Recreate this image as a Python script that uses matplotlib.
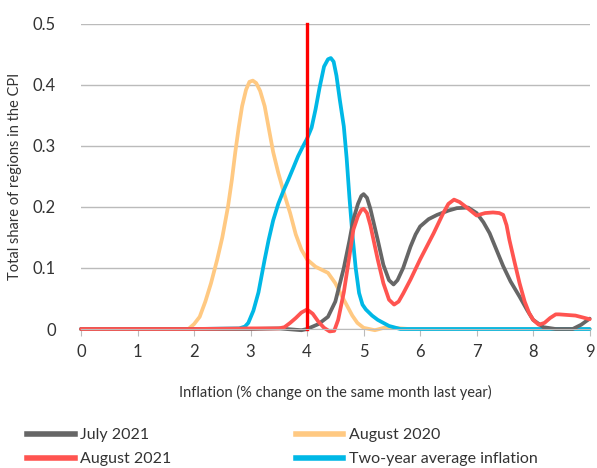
import matplotlib
matplotlib.use("Agg")
import matplotlib.pyplot as plt

# regional CPI distribution, share of regions by inflation rate
x_jul21 = [0, 1, 2, 3, 3.5, 3.9, 4.0, 4.2, 4.37, 4.5, 4.65, 4.75, 4.82, 4.9, 4.96, 5.0,
           5.06, 5.12, 5.25, 5.35, 5.45, 5.53, 5.6, 5.7, 5.83, 5.92, 6.0, 6.15, 6.3,
           6.5, 6.65, 6.85, 7.0, 7.12, 7.23, 7.35, 7.47, 7.6, 7.76, 7.9, 8.0, 8.18,
           8.4, 8.7, 8.85, 9.0]
y_jul21 = [0, 0, 0, 0, 0.001, -0.002, 0.0, 0.008, 0.02, 0.045, 0.1, 0.145, 0.18, 0.205,
           0.218, 0.221, 0.215, 0.197, 0.146, 0.105, 0.08, 0.073, 0.08, 0.1, 0.135, 0.155,
           0.168, 0.18, 0.187, 0.194, 0.198, 0.199, 0.19, 0.175, 0.157, 0.13, 0.103,
           0.078, 0.053, 0.03, 0.015, 0.003, 0.0, 0.0, 0.007, 0.017]

x_aug21 = [0, 1, 2, 3, 3.5, 3.6, 3.7, 3.8, 3.9, 4.0, 4.1, 4.2, 4.3, 4.4, 4.48, 4.55,
           4.65, 4.75, 4.82, 4.9, 4.96, 5.0, 5.06, 5.12, 5.25, 5.35, 5.45, 5.54, 5.62,
           5.7, 5.83, 6.0, 6.24, 6.41, 6.5, 6.6, 6.7, 6.84, 7.0, 7.15, 7.29, 7.4, 7.47,
           7.53, 7.58, 7.67, 7.76, 7.85, 7.93, 8.0, 8.1, 8.2, 8.3, 8.4, 8.46, 8.75, 9.0]
y_aug21 = [0, 0, 0, 0.001, 0.001, 0.003, 0.01, 0.018, 0.027, 0.032, 0.025, 0.012, 0.002,
           -0.004, -0.003, 0.015, 0.06, 0.12, 0.163, 0.185, 0.195, 0.197, 0.19, 0.17,
           0.114, 0.075, 0.048, 0.04, 0.045, 0.058, 0.081, 0.114, 0.157, 0.19, 0.205,
           0.212, 0.208, 0.198, 0.186, 0.19, 0.191, 0.19, 0.187, 0.17, 0.146, 0.11,
           0.075, 0.045, 0.026, 0.015, 0.007, 0.01, 0.018, 0.024, 0.024, 0.022, 0.016]

x_aug20 = [0, 1, 1.9, 2.0, 2.1, 2.2, 2.3, 2.41, 2.5, 2.6, 2.67, 2.73, 2.79, 2.85, 2.92,
           2.98, 3.04, 3.1, 3.17, 3.25, 3.32, 3.4, 3.49, 3.6, 3.7, 3.8, 3.9, 4.0, 4.15,
           4.37, 4.5, 4.65, 4.8, 4.89, 5.0, 5.2, 5.4, 5.8, 6, 7, 8, 9]
y_aug20 = [0, 0, 0, 0.008, 0.02, 0.045, 0.075, 0.114, 0.15, 0.2, 0.245, 0.29, 0.33,
           0.365, 0.392, 0.405, 0.407, 0.403, 0.39, 0.365, 0.33, 0.29, 0.256, 0.22,
           0.19, 0.155, 0.13, 0.114, 0.102, 0.092, 0.075, 0.048, 0.022, 0.01, 0.002,
           -0.002, 0.003, 0, 0, 0, 0, 0]

x_avg = [0, 1, 2, 2.8, 2.9, 2.96, 3.05, 3.14, 3.25, 3.32, 3.4, 3.49, 3.58, 3.67, 3.76,
         3.84, 3.92, 4.0, 4.08, 4.15, 4.22, 4.3, 4.37, 4.42, 4.47, 4.52, 4.58, 4.65,
         4.7, 4.75, 4.8, 4.86, 4.92, 4.98, 5.04, 5.15, 5.25, 5.45, 5.65, 6, 7, 8, 9]
y_avg = [0, 0, 0, 0.001, 0.004, 0.01, 0.03, 0.06, 0.114, 0.146, 0.178, 0.205, 0.226,
         0.245, 0.265, 0.283, 0.298, 0.312, 0.33, 0.36, 0.395, 0.43, 0.442, 0.444,
         0.438, 0.415, 0.375, 0.332, 0.28, 0.215, 0.157, 0.1, 0.059, 0.04, 0.032,
         0.022, 0.015, 0.005, 0.0, 0, 0, 0, 0]

threshold = 4.0

GREY = "#666666"
RED = "#FF5450"
ORANGE = "#FFC982"
BLUE = "#00B8E6"

plt.rcParams["font.family"] = ["Lato", "DejaVu Sans"]

fig = plt.figure(figsize=(5.97, 4.68), dpi=100)
ax = fig.add_axes([0.1357, 0.297, 0.852, 0.652])

lw = 2.7
style = dict(lw=lw, clip_on=False, solid_capstyle="round", solid_joinstyle="round")
ax.plot(x_aug20, y_aug20, color=ORANGE, **style)
ax.plot(x_avg, y_avg, color=BLUE, **style)
ax.plot(x_jul21, y_jul21, color=GREY, **style)
ax.plot(x_aug21, y_aug21, color=RED, **style)
ax.plot([threshold, threshold], [0, 0.5], color="#FF0000", lw=2.4, clip_on=False)

ax.set_xlim(0, 9)
ax.set_ylim(0, 0.5)
ax.set_xticks(range(10))
ax.set_yticks([0, 0.1, 0.2, 0.3, 0.4, 0.5])
ax.set_yticklabels(["0", "0.1", "0.2", "0.3", "0.4", "0.5"])
ax.grid(axis="y", color="#BBBBBB", lw=1)
ax.set_axisbelow(True)
for s in ["top", "right", "left"]:
    ax.spines[s].set_visible(False)
ax.spines["bottom"].set_color("#BBBBBB")
ax.tick_params(axis="x", length=5, color="#BBBBBB", labelsize=12, labelcolor="#333333", pad=6)
ax.tick_params(axis="y", length=0, labelsize=12, labelcolor="#333333", pad=18)

ax.set_xlabel("Inflation (% change on the same month last year)", fontsize=10.5,
              color="#333333", labelpad=18)
ax.set_ylabel("Total share of regions in the CPI", fontsize=10.5, color="#333333", labelpad=8)

h_jul, = ax.plot([], [], color=GREY, lw=4)
h_aug21, = ax.plot([], [], color=RED, lw=4)
h_aug20, = ax.plot([], [], color=ORANGE, lw=4)
h_avg, = ax.plot([], [], color=BLUE, lw=4)

leg_kw = dict(frameon=False, fontsize=11.5, handlelength=3.0, handletextpad=0.35,
              labelspacing=0.6, borderaxespad=0, borderpad=0, labelcolor="#333333")
fig.legend([h_jul, h_aug21], ["July 2021", "August 2021"], loc="upper left",
           bbox_to_anchor=(0.045, 0.085), **leg_kw)
fig.legend([h_aug20, h_avg], ["August 2020", "Two-year average inflation"], loc="upper left",
           bbox_to_anchor=(0.495, 0.085), **leg_kw)

fig.savefig("out.png", dpi=100)
